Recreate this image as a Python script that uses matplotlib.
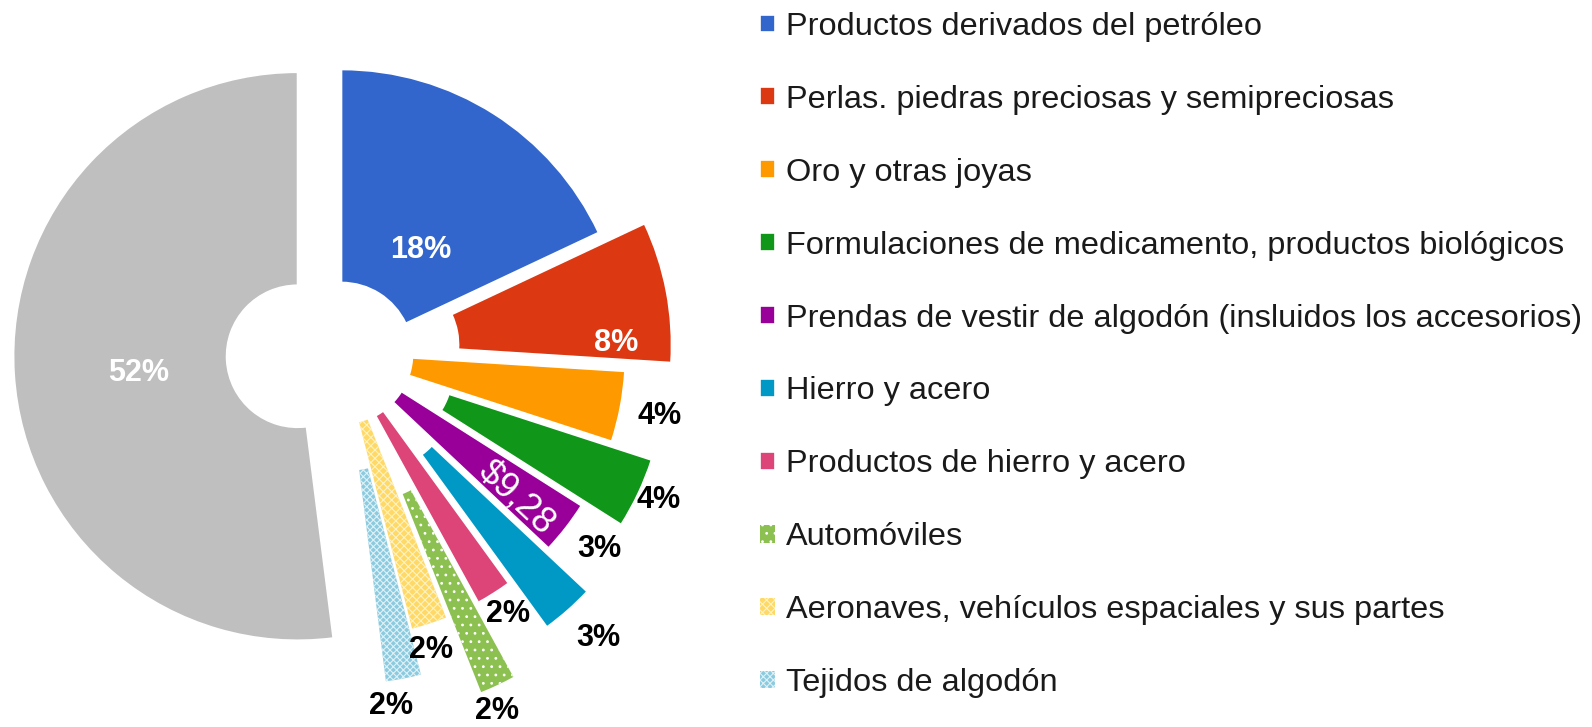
import numpy as np
import matplotlib
matplotlib.use("Agg")
import matplotlib.pyplot as plt

plt.rcParams['font.family'] = ['Liberation Sans', 'DejaVu Sans']
plt.rcParams['hatch.linewidth'] = 0.8

categories = [
    "Productos derivados del petróleo",
    "Perlas. piedras preciosas y semipreciosas",
    "Oro y otras joyas",
    "Formulaciones de medicamento, productos biológicos",
    "Prendas de vestir de algodón (insluidos los accesorios)",
    "Hierro y acero",
    "Productos de hierro y acero",
    "Automóviles",
    "Aeronaves, vehículos espaciales y sus partes",
    "Tejidos de algodón",
]
shares = [18, 8, 4, 4, 3, 3, 2, 2, 2, 2]
other_share = 52
pct_labels = ["18%", "8%", "4%", "4%", "3%", "3%", "2%", "2%", "2%", "2%", "52%"]
purple_note = "$9,28"

# styling
colors = ["#3366cc", "#dc3912", "#ff9900", "#109618", "#990099", "#0099c6",
          "#dd4477", "#8cc152", "#ffd966", "#8ccbdf", "#bfbfbf"]
hatches = [None] * 7 + ["..", "xxxx", "xxxxx", None]
hatch_colors = [None] * 7 + ["white", "#fff2c4", "#def1f7", None]
explode = [0.0, 0.165, 0.0, 0.155, 0.0, 0.205, 0.0, 0.29, 0.0, 0.165, 0.155]
# label placement (radius, angle) around the pie centre
label_pos = [(0.46, 52.7), (0.967, 2.2), (1.143, -11.1), (1.228, -24.8),
             (1.138, -37.2), (1.351, -47.9), (1.089, -57.4), (1.373, -66.5),
             (1.090, -73.2), (1.253, -82.0), (0.716, 185.5)]
label_color = ["white", "white"] + ["black"] * 8 + ["white"]

W, H = 1592, 727
cx, cy, R = 341.5, 353.5, 284.0

fig = plt.figure(figsize=(W / 100, H / 100), dpi=100)
ax = fig.add_axes([0, 0, 1, 1])

values = shares + [other_share]
wedges, _ = ax.pie(values, explode=explode, colors=colors, startangle=90,
                   counterclock=False, radius=1.0,
                   wedgeprops=dict(width=0.75, edgecolor="white", linewidth=1.2))
for w, h, hc in zip(wedges, hatches, hatch_colors):
    if h:
        w.set_hatch(h)
        w.set_edgecolor(hc)
        w.set_linewidth(0)

for (r, a), txt, c in zip(label_pos, pct_labels, label_color):
    t = np.deg2rad(a)
    ax.text(r * np.cos(t), r * np.sin(t), txt, ha="center", va="center",
            fontsize=22, fontweight="bold", color=c)

ax.text(0.80 * np.cos(np.deg2rad(-39.5)), 0.80 * np.sin(np.deg2rad(-39.5)),
        purple_note, ha="center", va="center", fontsize=26, color="white",
        rotation=-43, rotation_mode="anchor")

ax.set_xlim(-cx / R, (W - cx) / R)
ax.set_ylim((cy - H) / R, cy / R)
ax.set_aspect("equal")
ax.axis("off")

leg = fig.legend(wedges[:10], categories, loc="upper left",
                 bbox_to_anchor=(760 / W, 1 - 12 / H), frameon=False,
                 fontsize=23.4, handlelength=0.46, handleheight=0.46,
                 handletextpad=0.33, labelspacing=1.32, borderpad=0,
                 borderaxespad=0)
for t in leg.get_texts():
    t.set_color("#1a1a1a")

fig.savefig("out.png", dpi=100)
